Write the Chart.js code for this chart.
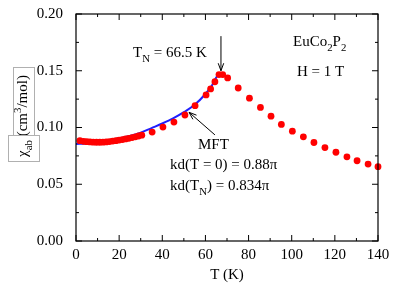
<!DOCTYPE html>
<html>
<head>
<meta charset="utf-8">
<script src="https://cdn.jsdelivr.net/npm/chart.js@4/dist/chart.umd.min.js"></script>
<style>
  html, body { margin: 0; padding: 0; background: #fff; }
  #wrap { width: 395px; height: 286px; }
</style>
</head>
<body>
<div id="wrap"><canvas id="c" width="395" height="286"></canvas></div>
<script>
// measured data (T in K, chi in cm3/mol)
const tempData = [1.8, 3.5, 5, 6.5, 8, 9.5, 11, 12.5, 14, 15.5, 17, 18.5, 20, 21.5, 23, 24.5, 26, 27.5, 29, 30.5,
  35.3, 40.3, 45.4, 50.5, 55.2, 60.3, 62.4, 64.4, 66.3, 68.0, 70.3, 75.2, 80.4, 85.5, 90.4, 95.2,
  100.3, 105.4, 110.3, 115.4, 120.5, 125.6, 130.3, 135.4, 140.0];
const chiData = [0.0884, 0.0878, 0.0875, 0.0873, 0.0871, 0.0870, 0.0870, 0.0871, 0.0873, 0.0876, 0.0880, 0.0884, 0.0889, 0.0894, 0.0899, 0.0905, 0.0911, 0.0918, 0.0925, 0.0932,
  0.0960, 0.1004, 0.1048, 0.1110, 0.1192, 0.1287, 0.1340, 0.1403, 0.1466, 0.1466, 0.1437, 0.1348, 0.1258, 0.1177, 0.1100, 0.1027,
  0.0968, 0.0918, 0.0868, 0.0823, 0.0782, 0.0742, 0.0707, 0.0678, 0.0655];

// MFT fit
const tempMft = [0, 5, 10, 15, 20, 25, 30, 35, 40, 45, 50, 55, 60, 63, 65, 66.5];
const chiMft = [0.0855, 0.0860, 0.0872, 0.0888, 0.0905, 0.0925, 0.0955, 0.0995, 0.1035, 0.1080, 0.1135, 0.1200, 0.1295, 0.1370, 0.1440, 0.1480];

const xTicks = [0, 20, 40, 60, 80, 100, 120, 140];
const yTicks = [0, 0.05, 0.10, 0.15, 0.20];

const FONT = '"Liberation Serif", "Times New Roman", serif';

// draw text with sub/superscripts, left aligned at baseline
function richText(ctx, x, y, parts, size) {
  let cx = x;
  parts.forEach(p => {
    const txt = p[0], kind = p[1] || 'n';
    let fs = size, dy = 0;
    if (kind === 'sub') { fs = size * 0.72; dy = size * 0.3; }
    if (kind === 'sup') { fs = size * 0.72; dy = -size * 0.42; }
    ctx.font = fs + 'px ' + FONT;
    ctx.fillText(txt, cx, y + dy);
    cx += ctx.measureText(txt).width;
  });
  return cx - x;
}
function richWidth(ctx, parts, size) {
  let w = 0;
  parts.forEach(p => {
    const fs = (p[1] && p[1] !== 'n') ? size * 0.72 : size;
    ctx.font = fs + 'px ' + FONT;
    w += ctx.measureText(p[0]).width;
  });
  return w;
}

function arrow(ctx, x1, y1, x2, y2) {
  const a = Math.atan2(y2 - y1, x2 - x1);
  ctx.beginPath();
  ctx.moveTo(x1, y1);
  ctx.lineTo(x2, y2);
  ctx.stroke();
  const L = 8, W = 0.35;
  ctx.beginPath();
  ctx.moveTo(x2 - L * Math.cos(a - W), y2 - L * Math.sin(a - W));
  ctx.lineTo(x2, y2);
  ctx.lineTo(x2 - L * Math.cos(a + W), y2 - L * Math.sin(a + W));
  ctx.stroke();
}

const frame = {
  id: 'frame',
  afterDatasetsDraw(chart) {
    const { ctx, chartArea: a, scales: { x, y } } = chart;
    ctx.save();
    ctx.strokeStyle = '#000';
    ctx.lineWidth = 1.2;
    ctx.strokeRect(a.left, a.top, a.right - a.left, a.bottom - a.top);
    // inward ticks, all four sides
    ctx.lineWidth = 1;
    ctx.beginPath();
    for (let v = 0; v <= 140; v += 10) {
      const px = x.getPixelForValue(v);
      const len = v % 20 === 0 ? 6 : 3;
      ctx.moveTo(px, a.bottom); ctx.lineTo(px, a.bottom - len);
      ctx.moveTo(px, a.top); ctx.lineTo(px, a.top + len);
    }
    for (let i = 0; i <= 8; i++) {
      const v = i * 0.025;
      const py = y.getPixelForValue(v);
      const len = i % 2 === 0 ? 6 : 3;
      ctx.moveTo(a.left, py); ctx.lineTo(a.left + len, py);
      ctx.moveTo(a.right, py); ctx.lineTo(a.right - len, py);
    }
    ctx.stroke();

    // annotations
    ctx.fillStyle = '#000';
    ctx.textAlign = 'left';
    ctx.textBaseline = 'alphabetic';
    richText(ctx, 133, 57, [['T'], ['N', 'sub'], [' = 66.5 K']], 15);
    richText(ctx, 293, 46, [['EuCo'], ['2', 'sub'], ['P'], ['2', 'sub']], 15);
    richText(ctx, 297, 76, [['H = 1 T']], 15);
    richText(ctx, 198, 149, [['MFT']], 15);
    richText(ctx, 170, 169, [['kd(T = 0) = 0.88\u03c0']], 15);
    richText(ctx, 170, 190, [['kd(T'], ['N', 'sub'], [') = 0.834\u03c0']], 15);

    ctx.lineWidth = 1;
    arrow(ctx, x.getPixelForValue(67.2), y.getPixelForValue(0.1805), x.getPixelForValue(67.2), y.getPixelForValue(0.150));
    arrow(ctx, x.getPixelForValue(64.4), y.getPixelForValue(0.0935), x.getPixelForValue(52.4), y.getPixelForValue(0.1134));

    // y axis title (rotated)
    const yParts = [['\u03c7'], ['ab', 'sub'], [' (cm'], ['3', 'sup'], ['/mol)']];
    const w = richWidth(ctx, yParts, 15);
    ctx.save();
    ctx.translate(27, 116);
    ctx.rotate(-Math.PI / 2);
    richText(ctx, -w / 2, 0, yParts, 15);
    ctx.restore();
    // grey equation frames
    ctx.strokeStyle = '#b0b0b0';
    ctx.lineWidth = 1;
    ctx.strokeRect(13.5, 67.5, 21, 68);
    ctx.strokeRect(8.5, 135.5, 31, 26);
    ctx.restore();
  }
};

new Chart(document.getElementById('c'), {
  type: 'scatter',
  data: {
    datasets: [
      {
        label: 'data',
        data: tempData.map((t, i) => ({ x: t, y: chiData[i] })),
        backgroundColor: '#ff0000',
        borderColor: '#ff0000',
        pointRadius: 3.4,
        borderWidth: 0,
        clip: false,
        order: 0
      },
      {
        label: 'MFT',
        type: 'line',
        data: tempMft.map((t, i) => ({ x: t, y: chiMft[i] })),
        borderColor: '#1f1fff',
        borderWidth: 2,
        pointRadius: 0,
        tension: 0.4,
        cubicInterpolationMode: 'monotone',
        fill: false,
        order: 1
      }
    ]
  },
  options: {
    responsive: false,
    animation: false,
    layout: { padding: { left: 0, right: 17, top: 10, bottom: 0 } },
    plugins: { legend: { display: false }, tooltip: { enabled: false } },
    scales: {
      x: {
        type: 'linear', min: 0, max: 140,
        grid: { display: false, drawTicks: false },
        border: { display: false },
        ticks: {
          stepSize: 20, color: '#000', padding: 5,
          font: { family: FONT, size: 15 },
          maxRotation: 0
        },
        afterBuildTicks: s => { s.ticks = xTicks.map(v => ({ value: v })); },
        title: { display: true, text: 'T (K)', color: '#000', font: { family: FONT, size: 15 }, padding: { top: 0, bottom: 2 } },
        afterFit: s => { s.height = 45; }
      },
      y: {
        type: 'linear', min: 0, max: 0.2,
        grid: { display: false },
        border: { display: false },
        ticks: {
          color: '#000', padding: 5,
          font: { family: FONT, size: 15 },
          callback: v => v.toFixed(2)
        },
        afterBuildTicks: s => { s.ticks = yTicks.map(v => ({ value: v })); },
        afterFit: s => { s.width = 76; }
      }
    }
  },
  plugins: [frame]
});
</script>
</body>
</html>
